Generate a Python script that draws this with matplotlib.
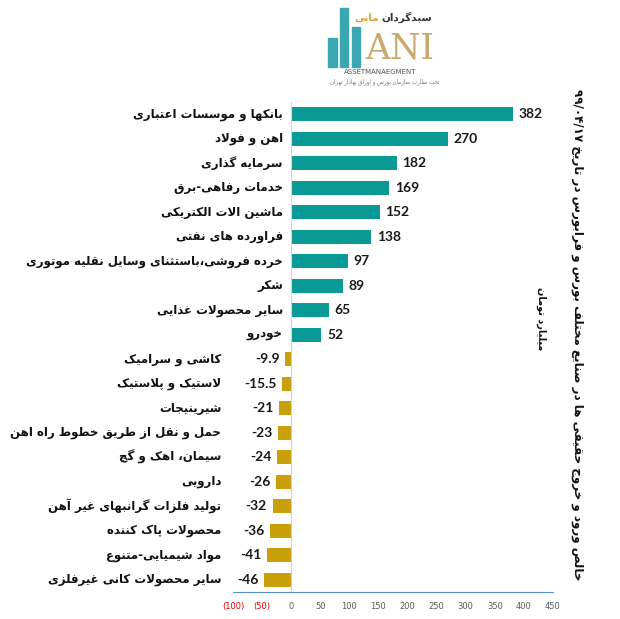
import matplotlib
matplotlib.use("Agg")
import matplotlib.pyplot as plt
from matplotlib.patches import Rectangle
from matplotlib.ticker import FuncFormatter

# --- data ---
sectors = [
    "بانکها و موسسات اعتباری",
    "اهن و فولاد",
    "سرمایه گذاری",
    "خدمات رفاهی-برق",
    "ماشین الات الکتریکی",
    "فراورده های نفتی",
    "خرده فروشی،باستثنای وسایل نقلیه موتوری",
    "شکر",
    "سایر محصولات غذایی",
    "خودرو",
    "کاشی و سرامیک",
    "لاستیک و پلاستیک",
    "شیرینیجات",
    "حمل و نقل از طریق خطوط راه اهن",
    "سیمان، اهک و گچ",
    "دارویی",
    "تولید فلزات گرانبهای غیر آهن",
    "محصولات پاک کننده",
    "مواد شیمیایی-متنوع",
    "سایر محصولات کانی غیرفلزی",
]
values = [382, 270, 182, 169, 152, 138, 97, 89, 65, 52,
          -9.9, -15.5, -21, -23, -24, -26, -32, -36, -41, -46]
x_ticks = [-100, -50, 0, 50, 100, 150, 200, 250, 300, 350, 400, 450]

title = "خالص ورود و خروج حقیقی ها در صنایع مختلف بورس و فرابورس در تاریخ ۹۹/۰۴/۱۷"
unit = "میلیارد تومان"

# --- simple persian shaping (matplotlib has no complex text layout) ---
# letter: (isolated, final, initial, medial); two forms -> joins only to the right
FORMS = {
    "ا": (0xFE8D, 0xFE8E), "آ": (0xFE81, 0xFE82), "أ": (0xFE83, 0xFE84),
    "ب": (0xFE8F, 0xFE90, 0xFE91, 0xFE92), "پ": (0xFB56, 0xFB57, 0xFB58, 0xFB59),
    "ت": (0xFE95, 0xFE96, 0xFE97, 0xFE98), "ث": (0xFE99, 0xFE9A, 0xFE9B, 0xFE9C),
    "ج": (0xFE9D, 0xFE9E, 0xFE9F, 0xFEA0), "چ": (0xFB7A, 0xFB7B, 0xFB7C, 0xFB7D),
    "ح": (0xFEA1, 0xFEA2, 0xFEA3, 0xFEA4), "خ": (0xFEA5, 0xFEA6, 0xFEA7, 0xFEA8),
    "د": (0xFEA9, 0xFEAA), "ذ": (0xFEAB, 0xFEAC), "ر": (0xFEAD, 0xFEAE),
    "ز": (0xFEAF, 0xFEB0), "ژ": (0xFB8A, 0xFB8B),
    "س": (0xFEB1, 0xFEB2, 0xFEB3, 0xFEB4), "ش": (0xFEB5, 0xFEB6, 0xFEB7, 0xFEB8),
    "ص": (0xFEB9, 0xFEBA, 0xFEBB, 0xFEBC), "ض": (0xFEBD, 0xFEBE, 0xFEBF, 0xFEC0),
    "ط": (0xFEC1, 0xFEC2, 0xFEC3, 0xFEC4), "ظ": (0xFEC5, 0xFEC6, 0xFEC7, 0xFEC8),
    "ع": (0xFEC9, 0xFECA, 0xFECB, 0xFECC), "غ": (0xFECD, 0xFECE, 0xFECF, 0xFED0),
    "ف": (0xFED1, 0xFED2, 0xFED3, 0xFED4), "ق": (0xFED5, 0xFED6, 0xFED7, 0xFED8),
    "ک": (0xFB8E, 0xFB8F, 0xFB90, 0xFB91), "گ": (0xFB92, 0xFB93, 0xFB94, 0xFB95),
    "ل": (0xFEDD, 0xFEDE, 0xFEDF, 0xFEE0), "م": (0xFEE1, 0xFEE2, 0xFEE3, 0xFEE4),
    "ن": (0xFEE5, 0xFEE6, 0xFEE7, 0xFEE8), "و": (0xFEED, 0xFEEE),
    "ه": (0xFEE9, 0xFEEA, 0xFEEB, 0xFEEC), "ی": (0xFBFC, 0xFBFD, 0xFBFE, 0xFBFF),
    "ئ": (0xFE89, 0xFE8A, 0xFE8B, 0xFE8C),
}
LAM_ALEF = {"ا": (0xFEFB, 0xFEFC), "آ": (0xFEF5, 0xFEF6)}


def fa(text):
    out = []
    i = 0
    n = len(text)
    while i < n:
        ch = text[i]
        if ch not in FORMS:
            out.append(ch)
            i += 1
            continue
        prev = text[i - 1] if i > 0 else ""
        join_prev = prev in FORMS and len(FORMS[prev]) == 4
        if ch == "ل" and i + 1 < n and text[i + 1] in LAM_ALEF:
            out.append(chr(LAM_ALEF[text[i + 1]][1 if join_prev else 0]))
            i += 2
            continue
        nxt = text[i + 1] if i + 1 < n else ""
        forms = FORMS[ch]
        join_next = len(forms) == 4 and nxt in FORMS
        if join_prev and join_next:
            c = forms[3]
        elif join_prev:
            c = forms[1]
        elif join_next:
            c = forms[2]
        else:
            c = forms[0]
        out.append(chr(c))
        i += 1
    # visual order: reverse, but keep digit runs left-to-right
    rev = "".join(reversed(out))
    res, run = [], []
    for ch in rev:
        if ch.isdigit() or (run and ch in "/."):
            run.append(ch)
        else:
            if run:
                res.extend(reversed(run))
                run = []
            res.append(ch)
    res.extend(reversed(run))
    return "".join(res)


teal = "#0a9a96"
gold = "#c99f0a"
colors = [teal if v > 0 else gold for v in values]
num_font = ["Lato", "DejaVu Sans"]

fig = plt.figure(figsize=(6.2, 6.19), dpi=100)
ax = fig.add_axes([0.3758, 0.0436, 0.516, 0.7916])

y = list(range(len(values)))
ax.barh(y, values, height=0.57, color=colors)
ax.set_ylim(len(values) - 0.5, -0.5)
ax.set_xlim(-100, 450)

for yi, v, name in zip(y, values, sectors):
    if v > 0:
        ax.annotate("{:g}".format(v), (v, yi), xytext=(4, 0), textcoords="offset points",
                    ha="left", va="center", fontsize=10, fontweight="bold",
                    family=num_font, color="#1a1a1a")
        ax.annotate(fa(name), (0, yi), xytext=(-6, 0), textcoords="offset points",
                    ha="right", va="center", fontsize=8.5, fontweight="bold",
                    color="#111111", annotation_clip=False)
    else:
        ax.annotate("{:g}".format(v), (v, yi), xytext=(-4, 0), textcoords="offset points",
                    ha="right", va="center", fontsize=10, fontweight="bold",
                    family=num_font, color="#1a1a1a")
        ax.annotate(fa(name), (-120, yi), ha="right", va="center", fontsize=8.5,
                    fontweight="bold", color="#111111", annotation_clip=False)

ax.set_xticks(x_ticks)
ax.xaxis.set_major_formatter(FuncFormatter(lambda v, p: "({:g})".format(-v) if v < 0 else "{:g}".format(v)))
ax.tick_params(axis="x", length=0, labelsize=6, colors="#595959", pad=7)
for lab, t in zip(ax.get_xticklabels(), x_ticks):
    if t < 0:
        lab.set_color("#e00000")
ax.set_yticks([])
for s in ["top", "right", "left"]:
    ax.spines[s].set_visible(False)
ax.spines["bottom"].set_color("#5b8fc7")
ax.spines["bottom"].set_linewidth(0.8)
ax.axvline(0, color="#e8c8d0", linewidth=0.8)

fig.text(0.932, 0.46, fa(title), rotation=-90, ha="center", va="center",
         fontsize=8.6, fontweight="bold", color="#111111")
fig.text(0.872, 0.486, fa(unit), rotation=-90, ha="center", va="center",
         fontsize=7, fontweight="bold", color="#111111")

# --- logo ---
for x0, top in [(0.529, 0.938), (0.548, 0.987), (0.567, 0.957)]:
    fig.patches.append(Rectangle((x0, 0.892), 0.014, top - 0.892,
                                 transform=fig.transFigure, color="#3aa7b0"))
fig.text(0.645, 0.922, "ANI", ha="center", va="center", fontsize=25,
         family="DejaVu Serif", color="#c8a96e")
fig.text(0.614, 0.883, "ASSETMANAEGMENT", ha="center", va="center", fontsize=5,
         color="#555555")
fig.text(0.697, 0.972, fa("سبدگردان"), ha="right", va="center", fontsize=7.5,
         fontweight="bold", color="#333333")
fig.text(0.612, 0.972, fa("مانی"), ha="right", va="center", fontsize=7.5,
         fontweight="bold", color="#d9a441")
fig.text(0.62, 0.868, fa("تحت نظارت سازمان بورس و اوراق بهادار تهران"),
         ha="center", va="center", fontsize=4, color="#777777")

fig.savefig("out.png", dpi=100)
